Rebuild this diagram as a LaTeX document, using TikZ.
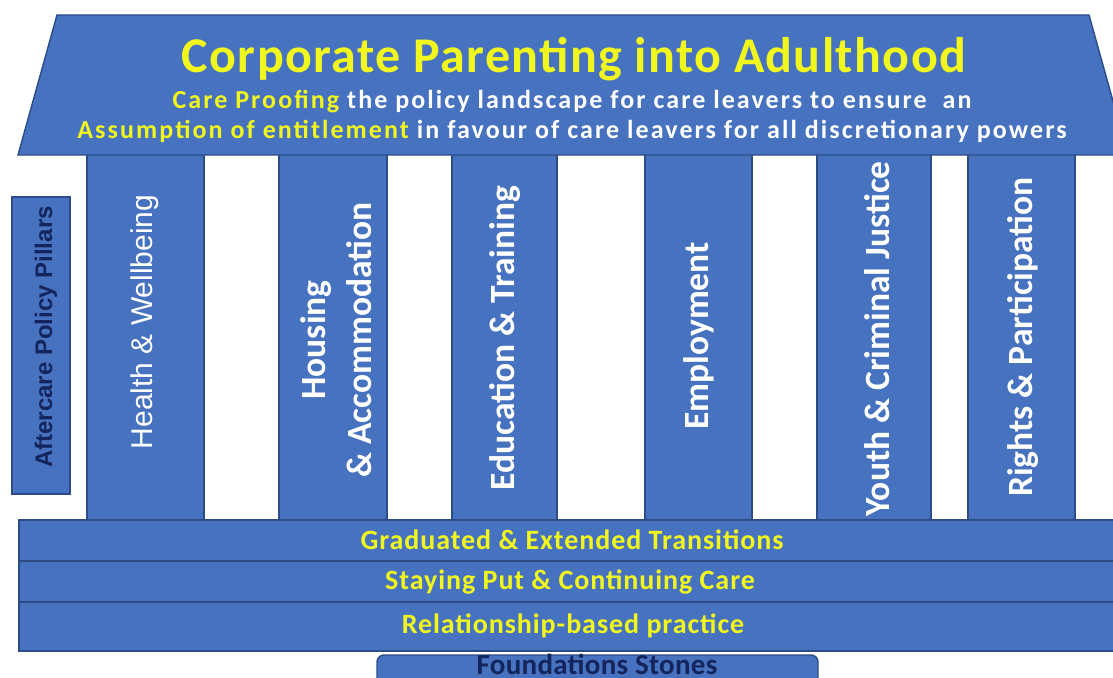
\documentclass[tikz,border=0pt]{standalone}
\usepackage{fontspec}
\setmainfont{Carlito}
\newfontfamily\arialf{Liberation Sans}
\definecolor{fillblue}{RGB}{70,114,192}
\definecolor{edgeblue}{RGB}{44,76,136}
\definecolor{txtyellow}{RGB}{240,246,30}
\definecolor{navy}{RGB}{20,36,92}
\newcommand{\fs}[1]{\fontsize{#1}{#1}\selectfont}
\begin{document}
\begin{tikzpicture}[x=1pt,y=-1pt,
  blk/.style={fill=fillblue,draw=edgeblue,line width=1.4pt},
  pillartxt/.style={rotate=90,text=white,font=\bfseries\fs{35.5},inner sep=0pt},
  bandtxt/.style={anchor=base,text=txtyellow,font=\bfseries\fs{28}\addfontfeature{LetterSpace=3.4},inner sep=0pt},
  rooftxt/.style={anchor=base,text=white,font=\bfseries\fs{26}\addfontfeature{LetterSpace=8},inner sep=0pt}]
\useasboundingbox (0,0) rectangle (1113,677);
\fill[white] (0,0) rectangle (1113,677);
% pillars
\draw[blk] (87,150) rectangle (204,520);
\draw[blk] (279,150) rectangle (387,520);
\draw[blk] (452,150) rectangle (557,520);
\draw[blk] (645,150) rectangle (752,520);
\draw[blk] (817,150) rectangle (931,520);
\draw[blk] (968,150) rectangle (1075,520);
% roof
\draw[blk] (57,15) -- (1089,15) -- (1128,155) -- (18,155) -- cycle;
% bands
\draw[blk] (19,520) rectangle (1125,561);
\draw[blk] (19,561) rectangle (1125,602);
\draw[blk] (19,602) rectangle (1125,651);
% left label box
\draw[blk] (12,197) rectangle (70,494);
% foundation
\draw[blk,rounded corners=7] (377,655) rectangle (818,700);

% roof texts
\node[anchor=base,text=txtyellow,font=\bfseries\fs{50}\addfontfeature{LetterSpace=2.8},inner sep=0pt] (title) at (574,72) {Corporate Parenting into Adulthood};
\node[rooftxt] (sub1) at (572,108) {\textcolor{txtyellow}{Care Proofing} the policy landscape for care leavers to ensure\ \ an};
\node[rooftxt] (sub2) at (572,138) {\textcolor{txtyellow}{Assumption of entitlement} in favour of care leavers for all discretionary powers};

% pillar texts
\node[pillartxt,font=\arialf\fs{30}] (t1) at (145,322) {Health \& Wellbeing};
\node[pillartxt,align=center] (t2) at (336,340) {Housing\\[11pt]\& Accommodation};
\node[pillartxt] (t3) at (505,338) {Education \& Training};
\node[pillartxt] (t4) at (699,336) {Employment};
\node[pillartxt] (t5) at (877,339) {Youth \& Criminal Justice};
\node[pillartxt] (t6) at (1023,337) {Rights \& Participation};

% left label
\node[rotate=90,text=navy,font=\arialf\bfseries\fs{24},inner sep=0pt] (lbl) at (46,337) {Aftercare Policy Pillars};

% band texts
\node[bandtxt] (b1) at (572,549) {Graduated \& Extended Transitions};
\node[bandtxt] (b2) at (570,589) {Staying Put \& Continuing Care};
\node[bandtxt] (b3) at (573,633) {Relationship-based practice};
\node[anchor=base,text=navy,font=\bfseries\fs{29}\addfontfeature{LetterSpace=1},inner sep=0pt] (fs) at (597,674) {Foundations Stones};
\end{tikzpicture}
\end{document}
